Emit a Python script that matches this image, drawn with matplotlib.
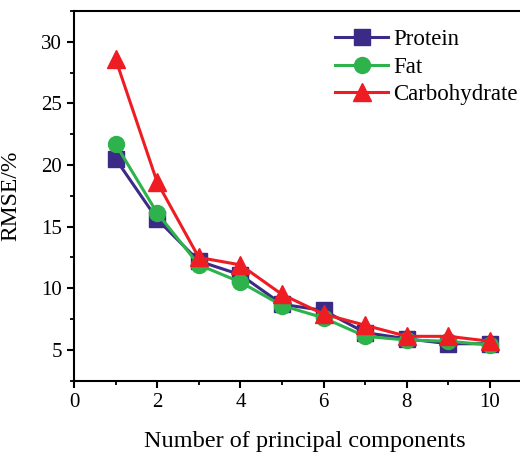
import matplotlib
matplotlib.use("Agg")
import matplotlib.pyplot as plt
from matplotlib.ticker import MultipleLocator

components = [1, 2, 3, 4, 5, 6, 7, 8, 9, 10]
protein = [20.5, 15.6, 12.2, 11.1, 8.7, 8.2, 6.4, 5.9, 5.5, 5.5]
fat = [21.7, 16.1, 11.9, 10.5, 8.6, 7.6, 6.1, 5.8, 5.7, 5.4]
carbohydrate = [28.6, 18.6, 12.5, 11.9, 9.5, 7.9, 7.0, 6.1, 6.1, 5.7]

plt.rcParams['font.family'] = ['Liberation Serif', 'DejaVu Serif']
plt.rcParams['mathtext.fontset'] = 'stix'

fig = plt.figure(figsize=(5.2, 4.54), dpi=100)
ax = fig.add_axes([74/520, 73.3/454, 446/520, (380.7-11)/454])

lw = 2.2
ax.plot(components, protein, color='#3b2a86', marker='s', markersize=11, lw=lw, label='Protein')
ax.plot(components, fat, color='#2eb24b', marker='o', markersize=11.5, lw=lw, label='Fat')
ax.plot(components, carbohydrate, color='#ee1d24', marker='^', markersize=13, lw=lw, label='Carbohydrate')

ax.set_xlim(0, 10.72)
ax.set_ylim(2.5, 32.5)
ax.xaxis.set_major_locator(MultipleLocator(2))
ax.xaxis.set_minor_locator(MultipleLocator(1))
ax.yaxis.set_major_locator(MultipleLocator(5))
ax.yaxis.set_minor_locator(MultipleLocator(2.5))
ax.set_yticks([5, 10, 15, 20, 25, 30])

ax.spines['right'].set_visible(False)
for s in ['left', 'bottom', 'top']:
    ax.spines[s].set_linewidth(1.5)
ax.tick_params(which='major', length=5, width=1.5, labelsize=15, direction='out', top=False, right=False)
ax.tick_params(which='minor', length=3, width=1.3, direction='out', top=False, right=False)

ax.set_xlabel('Number of principal components', fontsize=17.5)
ax.xaxis.set_label_coords(0.517, -0.135)
ax.set_ylabel('RMSE/%', fontsize=17)
ax.yaxis.set_label_coords(-0.118, 0.5)

leg = ax.legend(loc='upper left', bbox_to_anchor=(0.565, 0.975), frameon=False, fontsize=16.5,
                handlelength=2.3, handletextpad=0.25, labelspacing=0.28, borderaxespad=0)

fig.savefig('out.png', dpi=100)
